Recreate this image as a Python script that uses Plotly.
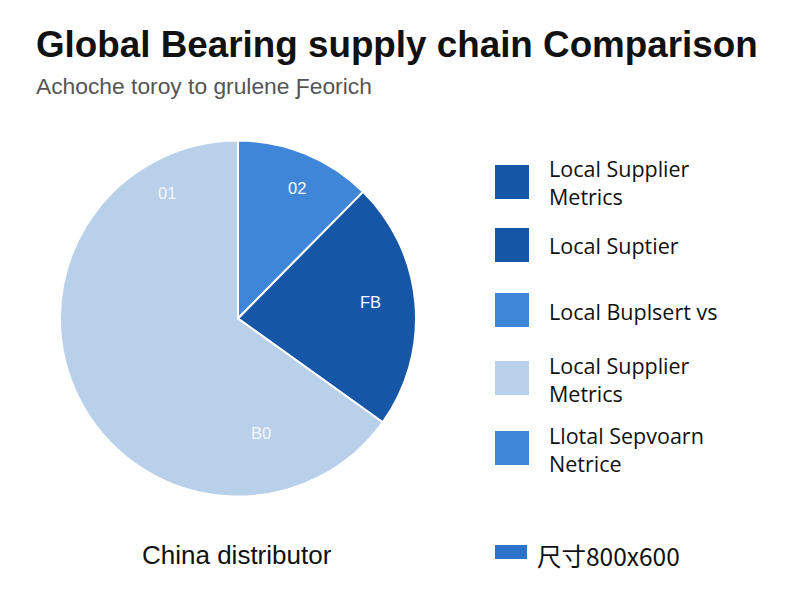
import plotly.graph_objects as go

# ---- data ----
slice_labels = ["02", "FB", "80"]
slice_values = [12.4, 22.5, 65.1]
slice_colors = ["#3f86d8", "#1556a6", "#b8d0ea"]

extra_label = "01"

legend_labels = [
    "Local Supplier<br>Metrics",
    "Local Suptier",
    "Local Buplsert vs",
    "Local Supplier<br>Metrics",
    "Llotal Sepvoarn<br>Netrice",
]
legend_colors = ["#1556a6", "#1556a6", "#3f86d8", "#b8d0ea", "#3f86d8"]

title_text = "Global Bearing supply chain Comparison"
subtitle_text = "Achoche toroy to grulene Ƒeorich"
bottom_left_text = "China distributor"
bottom_legend_text = "尺寸800x600"
bottom_legend_color = "#2f72c9"

W, H = 800, 600
def px(x):
    return x / W
def py(y):
    return 1 - y / H

fig = go.Figure()
fig.add_trace(go.Pie(
    labels=slice_labels,
    values=slice_values,
    marker=dict(colors=slice_colors, line=dict(color="white", width=2)),
    sort=False,
    direction="clockwise",
    rotation=0,
    textinfo="none",
    hoverinfo="label+value",
    domain=dict(x=[px(60), px(416)], y=[py(497), py(140)]),
    showlegend=False,
))

annotations = []
# slice labels
label_pos = {"01": (167, 193), "02": (297, 188), "FB": (370, 302), "80": (261, 433)}
label_colors = {"01": "#f4f7fc", "02": "#f4f8ff", "FB": "#f4f8ff", "80": "#f4f7fc"}
for lab in [extra_label] + slice_labels:
    x, y = label_pos[lab]
    shown = "B0" if lab == "80" else lab
    annotations.append(dict(x=px(x), y=py(y), xref="paper", yref="paper",
                            xanchor="center", yanchor="middle",
                            text=shown, showarrow=False,
                            font=dict(size=16.5, color=label_colors[lab], family="Liberation Sans, Arial")))

# title / subtitle
annotations.append(dict(x=px(34), y=py(45), xref="paper", yref="paper", xanchor="left", yanchor="middle",
                        text="<b>" + title_text + "</b>", showarrow=False,
                        font=dict(size=36.8, color="#111111", family="Liberation Sans, Arial")))
annotations.append(dict(x=px(34), y=py(86), xref="paper", yref="paper", xanchor="left", yanchor="middle",
                        text=subtitle_text, showarrow=False,
                        font=dict(size=22.8, color="#555555", family="Liberation Sans, Arial")))
annotations.append(dict(x=px(140), y=py(555), xref="paper", yref="paper", xanchor="left", yanchor="middle",
                        text=bottom_left_text, showarrow=False,
                        font=dict(size=26, color="#111111", family="Liberation Sans, Arial")))

shapes = []
legend_centers = [183, 246, 311, 379, 449]
for lab, col, cy in zip(legend_labels, legend_colors, legend_centers):
    shapes.append(dict(type="rect", xref="paper", yref="paper",
                       x0=px(495), x1=px(529), y0=py(cy - 1 + 17), y1=py(cy - 1 - 17),
                       fillcolor=col, line=dict(width=0)))
    annotations.append(dict(x=px(547), y=py(cy), xref="paper", yref="paper",
                            xanchor="left", yanchor="middle", align="left",
                            text=lab, showarrow=False,
                            font=dict(size=21.5, color="#111111", family="Open Sans, Arial")))

shapes.append(dict(type="rect", xref="paper", yref="paper",
                   x0=px(495), x1=px(527), y0=py(559), y1=py(545),
                   fillcolor=bottom_legend_color, line=dict(width=0)))
annotations.append(dict(x=px(535), y=py(555), xref="paper", yref="paper",
                        xanchor="left", yanchor="middle",
                        text=bottom_legend_text, showarrow=False,
                        font=dict(size=24.5, color="#111111", family="Noto Sans CJK SC, Liberation Sans")))

fig.update_layout(
    width=W, height=H,
    margin=dict(l=0, r=0, t=0, b=0),
    paper_bgcolor="white",
    plot_bgcolor="white",
    annotations=annotations,
    shapes=shapes,
)

fig.write_html("out.html")
